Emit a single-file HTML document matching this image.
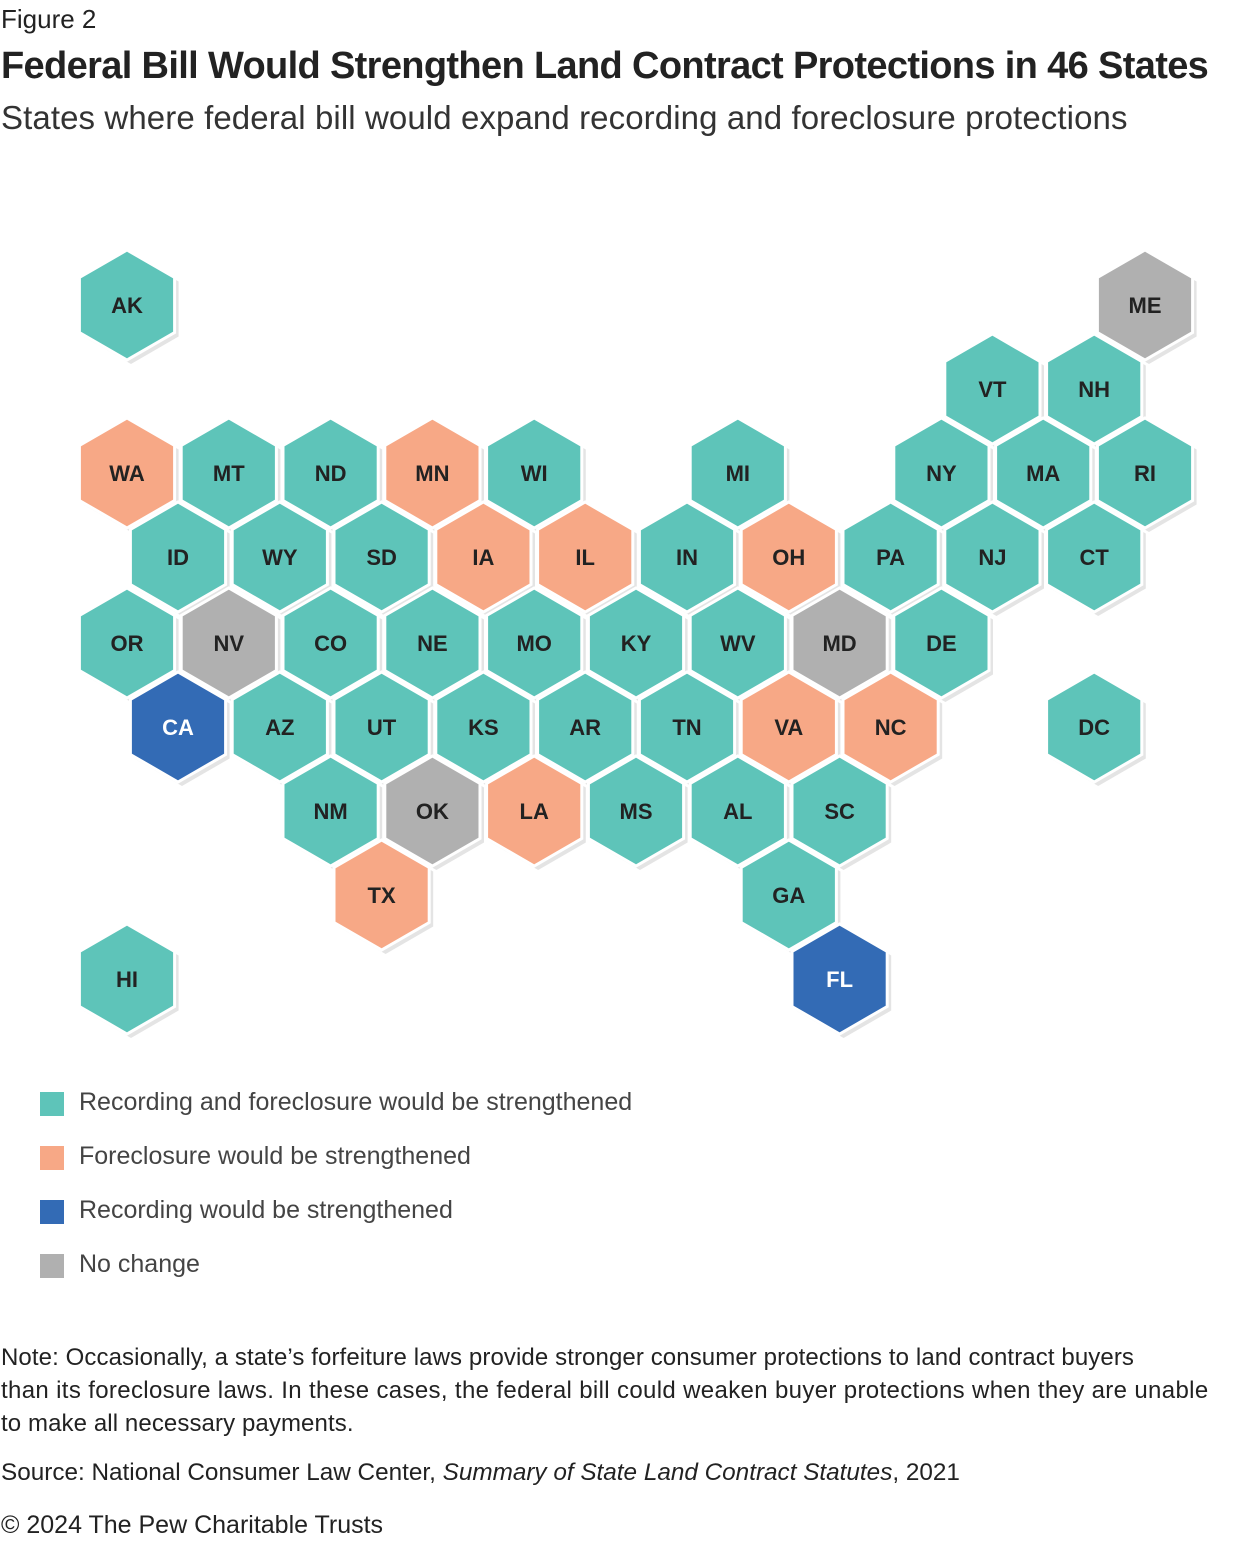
<!DOCTYPE html>
<html><head><meta charset="utf-8"><style>
body{margin:0;width:1240px;height:1542px;background:#fff;font-family:"Liberation Sans",sans-serif;color:#222;position:relative;overflow:hidden}
.t{position:absolute;left:1px;white-space:nowrap}
.lg{position:absolute;left:40px;width:24px;height:24px}
.lt{position:absolute;left:79px;font-size:25px;color:#444;white-space:nowrap}
</style></head><body>
<div class="t" style="top:45px;font-size:38px;font-weight:bold;letter-spacing:-0.65px">Federal Bill Would Strengthen Land Contract Protections in 46 States</div>
<div class="t" style="top:4px;font-size:26px">Figure 2</div>
<div class="t" style="top:99px;font-size:33px;color:#333;letter-spacing:0.1px">States where federal bill would expand recording and foreclosure protections</div>
<svg width="1240" height="1060" style="position:absolute;left:0;top:0" id="m"></svg>
<div class="lg" style="top:1092px;background:#5ec4b9"></div><div class="lt" style="top:1088px">Recording and foreclosure would be strengthened</div>
<div class="lg" style="top:1146px;background:#f7a886"></div><div class="lt" style="top:1142px">Foreclosure would be strengthened</div>
<div class="lg" style="top:1200px;background:#336bb5"></div><div class="lt" style="top:1196px">Recording would be strengthened</div>
<div class="lg" style="top:1254px;background:#b0b0b0"></div><div class="lt" style="top:1250px">No change</div>
<div class="t" style="top:1341px;font-size:24px;line-height:33px;letter-spacing:0.1px">Note: Occasionally, a state’s forfeiture laws provide stronger consumer protections to land contract buyers<br><span style="letter-spacing:0.35px">than its foreclosure laws. In these cases, the federal bill could weaken buyer protections when they are unable</span><br>to make all necessary payments.</div>
<div class="t" style="top:1459px;font-size:24.3px">Source: National Consumer Law Center, <i>Summary of State Land Contract Statutes</i>, 2021</div>
<div class="t" style="top:1511px;font-size:25px">© 2024 The Pew Charitable Trusts</div>
<script>
var rows=[[305,["AK",0],["ME",10]],[389,["VT",8],["NH",9]],
[473,["WA",0],["MT",1],["ND",2],["MN",3],["WI",4],["MI",6],["NY",8],["MA",9],["RI",10]],
[557,["ID",0],["WY",1],["SD",2],["IA",3],["IL",4],["IN",5],["OH",6],["PA",7],["NJ",8],["CT",9]],
[643,["OR",0],["NV",1],["CO",2],["NE",3],["MO",4],["KY",5],["WV",6],["MD",7],["DE",8]],
[727,["CA",0],["AZ",1],["UT",2],["KS",3],["AR",4],["TN",5],["VA",6],["NC",7],["DC",9]],
[811,["NM",2],["OK",3],["LA",4],["MS",5],["AL",6],["SC",7]],
[895,["TX",2],["GA",6]],[979,["HI",0],["FL",7]]];
var or="WA MN IA IL OH VA NC LA TX".split(" "),bl=["CA","FL"],gr=["ME","NV","MD","OK"];
var s="";
rows.forEach(function(r,ri){var y=r[0];var off=(ri%2)?51:0;
for(var k=1;k<r.length;k++){var st=r[k][0],x=127+off+101.8*r[k][1];
var c=or.indexOf(st)>=0?"#f7a886":bl.indexOf(st)>=0?"#336bb5":gr.indexOf(st)>=0?"#b0b0b0":"#5ec4b9";
var R=55,p="",ps="";for(var a=0;a<6;a++){var an=Math.PI/180*(60*a-90);p+=(x+R*Math.cos(an)).toFixed(1)+","+(y+R*Math.sin(an)).toFixed(1)+" ";ps+=(x+4+R*Math.cos(an)).toFixed(1)+","+(y+4+R*Math.sin(an)).toFixed(1)+" ";}
s+='<polygon points="'+ps+'" fill="#e4e4e4"/>';
s+='<polygon points="'+p+'" fill="'+c+'" stroke="#fff" stroke-width="3"/>';
s+='<text x="'+x+'" y="'+(y+8)+'" text-anchor="middle" font-size="22" font-weight="bold" fill="'+(c=="#336bb5"?"#fff":"#222")+'" font-family="Liberation Sans,sans-serif">'+st+'</text>';}});
document.getElementById("m").innerHTML=s;
</script>
</body></html>
